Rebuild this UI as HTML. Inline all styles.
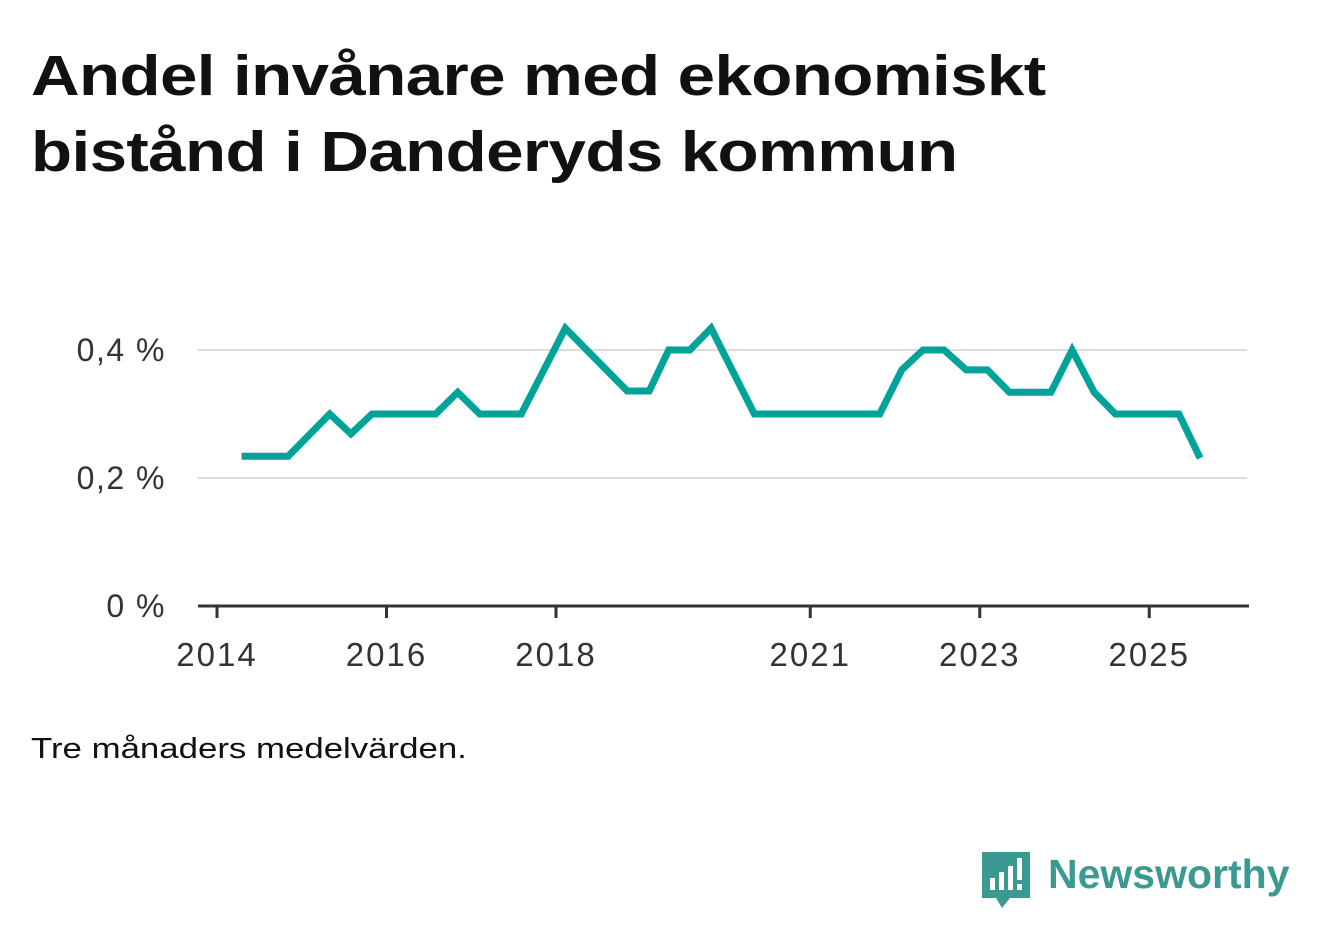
<!DOCTYPE html>
<html><head><meta charset="utf-8">
<style>
body{margin:0;background:#fff;width:1322px;height:939px;overflow:hidden;font-family:"Liberation Sans",sans-serif;}
h1{position:absolute;left:31px;top:38px;margin:0;font-size:57px;line-height:76px;font-weight:bold;color:#111;letter-spacing:-0.5px;transform:scaleX(1.18);transform-origin:0 0;white-space:nowrap;}
.note{position:absolute;left:31px;top:733px;font-size:29px;color:#111;transform:scaleX(1.2);transform-origin:0 0;white-space:nowrap;}
</style></head><body>
<h1>Andel invånare med ekonomiskt<br>bistånd i Danderyds kommun</h1>
<svg id="chart" width="1322" height="939" style="position:absolute;left:0;top:0"></svg>
<div class="note">Tre månaders medelvärden.</div>
<svg style="position:absolute;left:978px;top:848px" width="320" height="64">
<path d="M4 4 H52 V50 H32 L24 60 L18 50 H4 Z" fill="#3a9a92"/>
<rect x="12" y="30" width="5" height="12" fill="#fff"/><rect x="21" y="24" width="5" height="18" fill="#fff"/><rect x="30" y="18" width="5" height="24" fill="#fff"/><rect x="39" y="10" width="5" height="22" fill="#fff"/><rect x="39" y="36" width="5" height="6" fill="#fff"/>
<text x="70" y="40" font-family="Liberation Sans, sans-serif" font-size="41" font-weight="bold" fill="#3a9a92">Newsworthy</text>
</svg>
<script>
const dates=[2014.29,2014.84,2015.33,2015.58,2015.83,2016.58,2016.84,2017.10,2017.59,2018.11,2018.84,2019.10,2019.33,2019.58,2019.83,2020.34,2021.82,2022.08,2022.33,2022.58,2022.84,2023.09,2023.35,2023.84,2024.09,2024.35,2024.60,2025.35,2025.60];
const values=[0.234,0.234,0.30,0.269,0.30,0.30,0.334,0.30,0.30,0.434,0.336,0.336,0.40,0.40,0.434,0.30,0.30,0.369,0.40,0.40,0.369,0.369,0.334,0.334,0.40,0.334,0.30,0.30,0.231];
const yTicks=[0,0.2,0.4];
const yLabels=["0 %","0,2 %","0,4 %"];
const xTicks=[2014,2016,2018,2021,2023,2025];
const ns="http://www.w3.org/2000/svg";
const svg=document.getElementById('chart');
const x=d=>217+(d-2014)*84.75;
const y=v=>606-v*640;
function el(t,a){const e=document.createElementNS(ns,t);for(const k in a)e.setAttribute(k,a[k]);svg.appendChild(e);return e;}
yTicks.forEach((v,i)=>{
 if(v>0){const g=el('line',{x1:198,x2:1247,y1:y(v),y2:y(v),stroke:'#dcdcdc','stroke-width':2});
 
 }
 const t=el('text',{x:166,y:y(v)+11,'text-anchor':'end','font-size':32,fill:'#333','font-family':'Liberation Sans, sans-serif','letter-spacing':1.5});
 t.textContent=yLabels[i];
 
 
});
const ax=el('line',{x1:198,x2:1249,y1:606,y2:606,stroke:'#333','stroke-width':3});


xTicks.forEach(d=>{
 const tk=el('line',{x1:x(d),x2:x(d),y1:606,y2:618,stroke:'#333','stroke-width':3});
 
 
 const t=el('text',{x:x(d),y:666,'text-anchor':'middle','font-size':33,fill:'#333','font-family':'Liberation Sans, sans-serif','letter-spacing':2});
 t.textContent=d;
 
 
});
const p=el('polyline',{points:dates.map((d,i)=>x(d)+','+y(values[i])).join(' '),fill:'none',stroke:'#00a39a','stroke-width':7,'stroke-linejoin':'miter'});


</script>
</body></html>
